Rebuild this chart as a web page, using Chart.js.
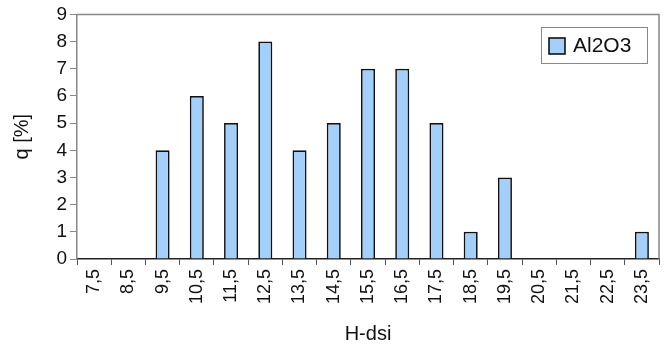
<!DOCTYPE html>
<html><head><meta charset="utf-8">
<script src="https://cdn.jsdelivr.net/npm/chart.js@4/dist/chart.umd.min.js"></script>
<style>html,body{margin:0;padding:0;background:#fff}#wrap{width:668px;height:346px}</style>
</head><body><div id="wrap"><canvas id="c" width="668" height="346"></canvas></div>
<script>
const categories = ["7,5","8,5","9,5","10,5","11,5","12,5","13,5","14,5","15,5","16,5","17,5","18,5","19,5","20,5","21,5","22,5","23,5"];
const al2o3 = [0,0,4,6,5,8,4,5,7,7,5,1,3,0,0,0,1];
const seriesName = "Al2O3";
const yTicks = [0,1,2,3,4,5,6,7,8,9];

const FONT = "'Liberation Sans', Arial, Helvetica, sans-serif";
const FILL = '#a3d0fb';

const frameAndLegend = {
  id: 'frameAndLegend',
  afterDraw(chart) {
    const {ctx, chartArea: a} = chart;
    ctx.save();
    ctx.strokeStyle = '#888';
    ctx.lineWidth = 1.5;
    ctx.beginPath();
    ctx.moveTo(a.left, a.top); ctx.lineTo(a.right, a.top); ctx.lineTo(a.right, a.bottom);
    ctx.stroke();
    // legend
    const bx = 541, by = 27, bw = 106, bh = 36;
    ctx.strokeStyle = '#888'; ctx.lineWidth = 1;
    ctx.strokeRect(bx + 0.5, by + 0.5, bw, bh);
    ctx.fillStyle = FILL;
    ctx.fillRect(bx + 8, by + 11, 16, 16);
    ctx.strokeStyle = '#111'; ctx.lineWidth = 1.6;
    ctx.strokeRect(bx + 8, by + 11, 16, 16);
    ctx.fillStyle = '#111';
    ctx.font = '21px ' + FONT;
    ctx.textBaseline = 'middle';
    ctx.fillText(seriesName, bx + 32, by + 19);
    ctx.restore();
  }
};

new Chart(document.getElementById('c'), {
  type: 'bar',
  data: {
    labels: categories,
    datasets: [{
      label: seriesName,
      data: al2o3,
      backgroundColor: FILL,
      borderColor: '#111',
      borderWidth: 1.7,
      barPercentage: 0.41,
      categoryPercentage: 1.0
    }]
  },
  options: {
    responsive: false,
    animation: false,
    devicePixelRatio: 1,
    layout: {padding: {left: 0, right: 9, top: 13, bottom: 0}},
    plugins: {legend: {display: false}, tooltip: {enabled: false}},
    scales: {
      x: {
        afterFit(s) { s.height = 87; },
        grid: {drawOnChartArea: false, drawTicks: true, tickLength: 6, color: '#555', offset: true},
        border: {color: '#222', width: 1.5},
        ticks: {minRotation: 90, maxRotation: 90, color: '#111', font: {family: FONT, size: 18}, padding: 4},
        title: {display: true, text: 'H-dsi', color: '#111', font: {family: FONT, size: 20}, padding: {top: 0, bottom: 0}}
      },
      y: {
        min: 0, max: 9,
        afterFit(s) { s.width = 77; },
        afterBuildTicks(scale) { scale.ticks = yTicks.map(v => ({value: v})); },
        grid: {drawOnChartArea: false, drawTicks: true, tickLength: 7, color: '#888'},
        border: {color: '#888', width: 1.5},
        ticks: {color: '#111', font: {family: FONT, size: 19}, padding: 3},
        title: {display: true, text: 'q [%]', color: '#111', font: {family: FONT, size: 20}, padding: {top: 10, bottom: 0}}
      }
    }
  },
  plugins: [frameAndLegend]
});
</script></body></html>
